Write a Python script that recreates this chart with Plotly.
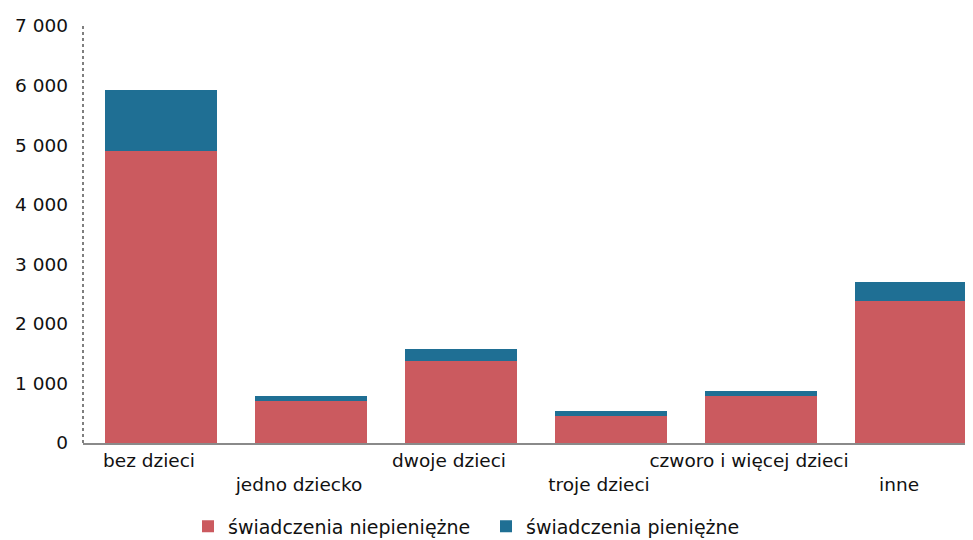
import plotly.graph_objects as go

categories = ["bez dzieci", "jedno dziecko", "dwoje dzieci", "troje dzieci",
              "czworo i więcej dzieci", "inne"]
tick_labels = ["bez dzieci", "<br>jedno dziecko", "dwoje dzieci", "<br>troje dzieci",
               "czworo i więcej dzieci", "<br>inne"]
niepieniezne = [4900, 710, 1380, 455, 790, 2390]
pieniezne = [1020, 85, 195, 85, 90, 320]

RED = "#CB5A5F"
BLUE = "#1F6F94"
FONT = "DejaVu Sans"
FS = 18.5

fig = go.Figure()
fig.add_trace(go.Bar(x=categories, y=niepieniezne, name="świadczenia niepieniężne",
                     marker=dict(color=RED, line=dict(width=0)), width=0.747))
fig.add_trace(go.Bar(x=categories, y=pieniezne, name="świadczenia pieniężne",
                     marker=dict(color=BLUE, line=dict(width=0)), width=0.747))

fig.update_layout(
    barmode="stack",
    width=973, height=540,
    margin=dict(l=75, r=8, t=18, b=105, autoexpand=False),
    paper_bgcolor="white", plot_bgcolor="white",
    separators=", ",
    font=dict(family=FONT, size=FS, color="#111111"),
    showlegend=True,
    legend=dict(orientation="h", xref="container", yref="container",
                x=0.185, xanchor="left", y=0.04, yanchor="middle",
                font=dict(family=FONT, size=19, color="#111111"),
                entrywidth=253, entrywidthmode="pixels",
                traceorder="normal"),
    xaxis=dict(type="category", categoryorder="array", categoryarray=categories,
               tickmode="array", tickvals=categories, ticktext=tick_labels,
               range=[-0.52, 5.413], showgrid=False, zeroline=False,
               showline=True, linecolor="#8a8a8a", linewidth=1.5,
               ticks="", ticklabelshift=-12, tickangle=0, automargin=False,
               tickfont=dict(size=FS)),
    yaxis=dict(range=[0, 7000], dtick=1000, tickformat=",", showgrid=False,
               zeroline=False, showline=False, ticks="", ticklabelstandoff=14,
               automargin=False, tickfont=dict(size=FS)),
    shapes=[dict(type="line", xref="paper", yref="paper", x0=0, x1=0, y0=0, y1=1,
                 line=dict(color="#555555", width=1.5, dash="dot"))],
)

fig.write_html("out.html")
